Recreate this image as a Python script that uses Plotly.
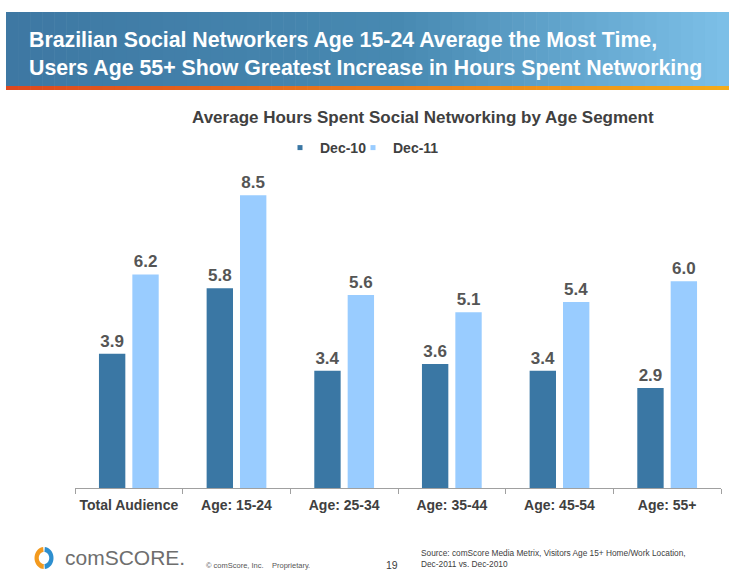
import math
import plotly.graph_objects as go

categories = ["Total Audience", "Age: 15-24", "Age: 25-34", "Age: 35-44", "Age: 45-54", "Age: 55+"]
dec10 = [3.9, 5.8, 3.4, 3.6, 3.4, 2.9]
dec11 = [6.2, 8.5, 5.6, 5.1, 5.4, 6.0]
series_names = ["Dec-10", "Dec-11"]
colors = ["#3A77A4", "#99CCFF"]

W, H = 729, 571
L, R, T, B = 75, 721, 150, 488  # plot area in pixels


def px(x):
    return (x - L) / (R - L)


def py(y):
    return (B - y) / (B - T)


FONT = "Liberation Sans, Arial, Helvetica, sans-serif"

fig = go.Figure()
for name, vals, col in zip(series_names, [dec10, dec11], colors):
    fig.add_trace(go.Bar(
        x=categories, y=vals, name=name, marker=dict(color=col, line=dict(width=0)),
        texttemplate="%{y:.1f}", textposition="outside", cliponaxis=False,
        textfont=dict(family=FONT, size=17, color="#555555", weight="bold"),
        showlegend=False,
    ))
    fig.add_trace(go.Scatter(
        x=[None], y=[None], mode="markers", name=name,
        marker=dict(symbol="square", size=5, color=col),
    ))
# spacer legend entry so the last label is not clipped
fig.add_trace(go.Scatter(x=[None], y=[None], mode="markers", name=" ",
                         marker=dict(size=1, color="rgba(0,0,0,0)"), hoverinfo="skip"))

shapes = []
# gradient banner
x0, x1, y0, y1 = 6, 729, 12, 86
n = 60
c_left = (62, 120, 163)
c_mid = (72, 138, 178)
c_right = (125, 192, 232)
for i in range(n):
    a = x0 + (x1 - x0) * i / n
    b = x0 + (x1 - x0) * (i + 1) / n + 0.6
    xm = (a + b) / 2
    if xm < 400:
        t = (xm - x0) / (400 - x0)
        c = [c_left[k] + (c_mid[k] - c_left[k]) * t for k in range(3)]
    else:
        t = (xm - 400) / (x1 - 400)
        c = [c_mid[k] + (c_right[k] - c_mid[k]) * t for k in range(3)]
    shapes.append(dict(type="rect", xref="paper", yref="paper", x0=px(a), x1=px(b), y0=py(y1), y1=py(y0),
                       fillcolor="rgb(%d,%d,%d)" % tuple(int(v) for v in c), line=dict(width=0), layer="below"))
    o_l = (222, 72, 30)
    o_r = (245, 172, 25)
    t2 = (xm - x0) / (x1 - x0)
    oc = [o_l[k] + (o_r[k] - o_l[k]) * t2 for k in range(3)]
    shapes.append(dict(type="rect", xref="paper", yref="paper", x0=px(a), x1=px(b), y0=py(90), y1=py(y1),
                       fillcolor="rgb(%d,%d,%d)" % tuple(int(v) for v in oc), line=dict(width=0), layer="below"))

# comScore logo (two arcs)
cx, cy, rx, ry, ri = 44.0, 558.0, 9.5, 11.0, 0.55


def arc_path(a_start, a_end, steps=20):
    pts_o = []
    pts_i = []
    for s in range(steps + 1):
        ang = math.radians(a_start + (a_end - a_start) * s / steps)
        pts_o.append((cx + rx * math.cos(ang), cy - ry * math.sin(ang)))
    for s in range(steps + 1):
        ang = math.radians(a_end - (a_end - a_start) * s / steps)
        pts_i.append((cx + rx * ri * math.cos(ang), cy - ry * ri * math.sin(ang)))
    pts = pts_o + pts_i
    return "M " + " L ".join("%.5f,%.5f" % (px(p[0]), py(p[1])) for p in pts) + " Z"


shapes.append(dict(type="path", xref="paper", yref="paper", path=arc_path(95, 268),
                   fillcolor="#F39A1E", line=dict(width=0)))
shapes.append(dict(type="path", xref="paper", yref="paper", path=arc_path(-85, 85),
                   fillcolor="#2E8FCF", line=dict(width=0)))

annotations = [
    dict(text="Brazilian Social Networkers Age 15-24 Average the Most Time,<br>Users Age 55+ Show Greatest Increase in Hours Spent Networking",
         xref="paper", yref="paper", x=px(27), y=py(54), xanchor="left", yanchor="middle", align="left",
         showarrow=False, font=dict(family=FONT, size=21.3, color="white", weight="bold")),
    dict(text="Average Hours Spent Social Networking by Age Segment", xref="paper", yref="paper",
         x=px(423), y=py(117), xanchor="center", yanchor="middle", showarrow=False,
         font=dict(family=FONT, size=17, color="#404040", weight="bold")),
    dict(text="comSCORE.", xref="paper", yref="paper", x=px(63), y=py(557), xanchor="left", yanchor="middle",
         showarrow=False, font=dict(family=FONT, size=21, color="#6E6E6E")),
    dict(text="© comScore, Inc.    Proprietary.", xref="paper", yref="paper", x=px(204), y=py(565),
         xanchor="left", yanchor="middle", showarrow=False, font=dict(family=FONT, size=7.5, color="#555555")),
    dict(text="19", xref="paper", yref="paper", x=px(384), y=py(565), xanchor="left", yanchor="middle",
         showarrow=False, font=dict(family=FONT, size=10.5, color="#404040")),
    dict(text="Source: comScore Media Metrix, Visitors Age 15+ Home/Work Location,<br>Dec-2011 vs. Dec-2010",
         xref="paper", yref="paper", x=px(419), y=py(558), xanchor="left", yanchor="middle", align="left",
         showarrow=False, font=dict(family=FONT, size=8.3, color="#404040")),
]

fig.update_layout(
    width=W, height=H,
    margin=dict(l=L, r=W - R, t=T, b=H - B, pad=0),
    paper_bgcolor="white", plot_bgcolor="white",
    barmode="group", bargap=0.38, bargroupgap=0.21,
    shapes=shapes, annotations=annotations,
    showlegend=True,
    legend=dict(orientation="h", x=px(280), y=py(148), xanchor="left", yanchor="middle",
                font=dict(family=FONT, size=14, color="#404040", weight="bold"),
                itemwidth=30, entrywidth=28, entrywidthmode="pixels",
                bgcolor="rgba(0,0,0,0)", itemclick=False),
    xaxis=dict(showline=True, linecolor="#A0A0A0", linewidth=1, ticks="outside", tickson="boundaries",
               ticklen=5, tickcolor="#A0A0A0", showgrid=False, ticklabelstandoff=4, tickangle=0,
               tickfont=dict(family=FONT, size=14, color="#404040", weight="bold"), fixedrange=True),
    yaxis=dict(visible=False, range=[0, (B - T) / 34.45], showgrid=False, zeroline=False, fixedrange=True),
)

fig.write_html("out.html")
